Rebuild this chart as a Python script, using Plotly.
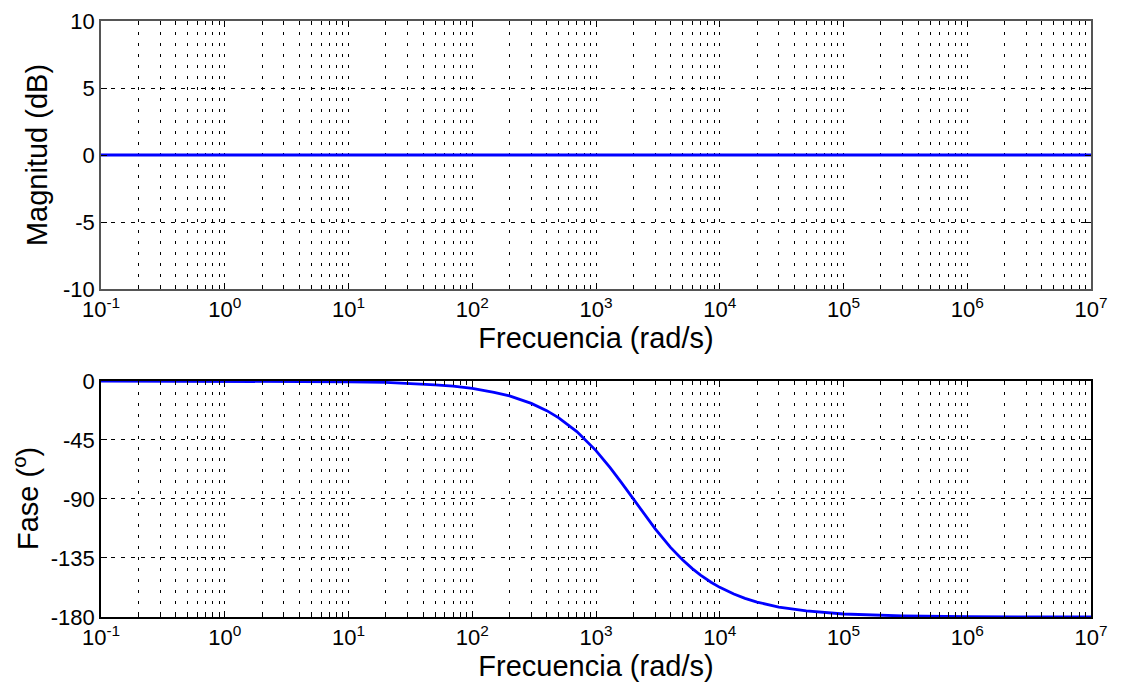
import plotly.graph_objects as go

# Data
freq = [0.1, 1, 10, 20, 30, 50, 70, 100, 150, 200, 300, 400, 500, 700, 1000, 1300,
        1600, 2000, 2500, 3000, 4000, 5000, 6000, 7000, 8500, 10000, 13000, 16000,
        20000, 30000, 50000, 100000, 300000, 1000000, 10000000]
phase = [0.0, -0.1, -0.6, -1.1, -1.7, -2.9, -4.0, -5.7, -8.6, -11.4, -17.1, -22.6,
         -28.1, -38.6, -53.1, -66.1, -77.3, -90.0, -102.7, -112.6, -126.9, -136.4,
         -143.1, -148.1, -153.5, -157.4, -162.5, -165.8, -168.6, -172.4, -175.4,
         -177.7, -179.2, -179.8, -180.0]
magnitude = [0.0] * len(freq)

decades = [-1, 0, 1, 2, 3, 4, 5, 6, 7]
xtick_vals = [10.0 ** d for d in decades]
xtick_text = ["10<sup>%d</sup>" % d for d in decades]
minor_vals = [m * 10.0 ** d for d in decades[:-1] for m in range(2, 10)]

mag_ticks = [-10, -5, 0, 5, 10]
mag_text = ["-10", "-5", "0", "5", "10"]
phase_ticks = [-180, -135, -90, -45, 0]
phase_text = ["-180", "-135", "-90", "-45", "0"]

FONT = "Liberation Sans, Arial, sans-serif"
BLUE = "#0000FF"
XTICK_SIZE = 22
YTICK_SIZE = 22
XTITLE_SIZE = 29
YTITLE_SIZE = 29
LEFT_MARGIN = 93

fig = go.Figure()
fig.add_trace(go.Scatter(x=freq, y=magnitude, mode="lines",
                         line=dict(color=BLUE, width=2.8), xaxis="x", yaxis="y",
                         showlegend=False))
fig.add_trace(go.Scatter(x=freq, y=phase, mode="lines",
                         line=dict(color=BLUE, width=2.8), xaxis="x2", yaxis="y2",
                         showlegend=False))

def xaxis_cfg(anchor, line_color):
    return dict(
        type="log", range=[-1, 7], anchor=anchor, automargin=False,
        tickmode="array", tickvals=xtick_vals, ticktext=xtick_text,
        ticks="inside", ticklen=6, tickcolor="black", tickwidth=1,
        showgrid=True, gridcolor="black", gridwidth=1, griddash="3px,8px",
        minor=dict(tickmode="array", tickvals=minor_vals, ticks="inside", ticklen=4,
                   tickcolor="black", showgrid=True, gridcolor="black",
                   gridwidth=1, griddash="3px,8px"),
        showline=True, linecolor=line_color, linewidth=1.5, mirror="ticks",
        zeroline=False,
        tickfont=dict(family=FONT, size=XTICK_SIZE, color="black"),
        title=dict(text="Frecuencia (rad/s)",
                   font=dict(family=FONT, size=XTITLE_SIZE, color="black"),
                   standoff=5),
    )

def yaxis_cfg(anchor, domain, rng, ticks, text, title, line_color, standoff):
    return dict(
        domain=domain, range=rng, anchor=anchor, automargin=False,
        tickmode="array", tickvals=ticks, ticktext=text,
        ticks="inside", ticklen=6, tickcolor="black",
        showgrid=True, gridcolor="black", gridwidth=1, griddash="4px,6px",
        showline=True, linecolor=line_color, linewidth=1.5, mirror="ticks",
        zeroline=False,
        tickfont=dict(family=FONT, size=YTICK_SIZE, color="black"),
        title=dict(text=title, font=dict(family=FONT, size=YTITLE_SIZE, color="black"),
                   standoff=standoff),
    )

# the page body adds an 8px offset, so the figure is sized to compensate
fig.update_layout(
    width=1106, height=675,
    paper_bgcolor="white", plot_bgcolor="white",
    margin=dict(l=LEFT_MARGIN, r=23, t=13, b=66, autoexpand=False),
    font=dict(family=FONT, color="black"),
    xaxis=xaxis_cfg("y", "#555555"),
    xaxis2=xaxis_cfg("y2", "black"),
    yaxis=yaxis_cfg("x", [0.5503, 1.0], [-10, 10], mag_ticks, mag_text,
                    "Magnitud (dB)", "#555555", 7),
    yaxis2=yaxis_cfg("x2", [0.0, 0.396], [-180, 0], phase_ticks, phase_text,
                     "", "black", 0),
)

fig.add_annotation(
    text="Fase (<sup>o</sup>)", xref="paper", yref="y2 domain", x=0, y=0.5,
    xanchor="left", yanchor="middle", xshift=-LEFT_MARGIN - 2, textangle=-90,
    showarrow=False, font=dict(family=FONT, size=YTITLE_SIZE, color="black"),
)

fig.write_html("out.html")
